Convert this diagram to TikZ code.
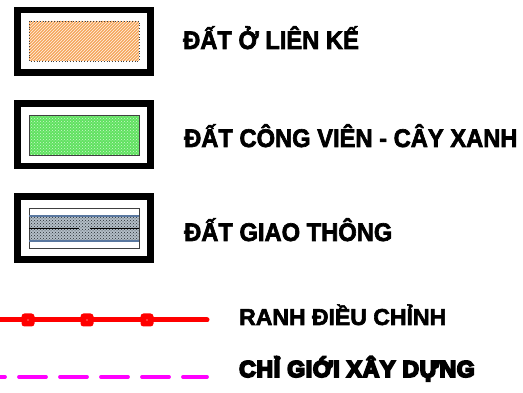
\documentclass[tikz,border=0pt]{standalone}
\usepackage{fontspec}
\newfontfamily\labelfont{Liberation Sans}[UprightFont={* Bold}, FakeBold=2.5, FakeStretch=0.93]
\newfontfamily\lineplainfont{Liberation Sans}[UprightFont={* Bold}, FakeBold=2.5]
\newfontfamily\heavyfont{Liberation Sans}[UprightFont={* Bold}, FakeBold=8, LetterSpace=3]
\usetikzlibrary{patterns}
\definecolor{landorange}{RGB}{246,166,92}
\definecolor{parkgreen}{RGB}{96,226,96}
\definecolor{roadgrey}{RGB}{128,146,162}
\definecolor{roadblue}{RGB}{90,120,160}
\definecolor{boundred}{RGB}{255,0,0}
\definecolor{setbackmag}{RGB}{255,0,255}
\tikzset{
  frame/.style={draw=black, line width=6.5pt},
  swatch/.style={draw=black!75, line width=0.8pt},
  label/.style={anchor=base west, inner sep=0pt, font=\labelfont\fontsize{25.5}{26}\selectfont},
  linelabel/.style={anchor=base west, inner sep=0pt, font=\lineplainfont\fontsize{23}{24}\selectfont},
  marker/.style={fill=boundred, rounded corners=3pt, minimum size=13pt, inner sep=0pt},
}
\begin{document}
\begin{tikzpicture}[x=1pt,y=-1pt]
\useasboundingbox (0,0) rectangle (523,393);

% residential row-house plot
\draw[frame] (17.5,10) rectangle (150.5,72.5);
\fill[landorange] (29,21) rectangle (139,61);
\fill[pattern=north east lines, pattern color=white!85!landorange] (29,21) rectangle (139,61);
\draw[swatch, dotted] (29,21) rectangle (139,61);
\node[label] (t1) at (183,49) {ĐẤT Ở LIÊN KẾ};

% park and green space
\draw[frame] (17.5,103.5) rectangle (150.5,166);
\fill[parkgreen] (29,115) rectangle (139,155);
\fill[pattern=crosshatch dots, pattern color=white!70!parkgreen] (29,115) rectangle (139,155);
\draw[swatch] (29,115) rectangle (139,155);
\node[label] (t2) at (184,147) {ĐẤT CÔNG VIÊN - CÂY XANH};

% transport land
\draw[frame] (17.5,196.5) rectangle (150.5,259.5);
\fill[roadgrey!60] (29,216) rectangle (139,241);
\fill[pattern=crosshatch dots, pattern color=roadgrey!30!black] (29,216) rectangle (139,241);
\draw[swatch] (29,208) rectangle (139,248);
\draw[roadblue, line width=1.2pt] (29,216) -- (139,216) (29,241) -- (139,241);
\draw[black, line width=0.8pt] (29,228.5) -- (79,228.5) (90,228.5) -- (139,228.5);
\node[label] (t3) at (184,241) {ĐẤT GIAO THÔNG};

% adjustment boundary
\coordinate (r0) at (0,320);
\coordinate (r1) at (207,320);
\draw[boundred, line width=5pt, line cap=round] (r0) -- (r1);
\foreach \x/\n in {28/a,87/b,147/c}{
  \node[marker] (m\n) at (\x,320) {};
  \fill[white] (\x,320) circle (0.6pt);
}
\node[linelabel] (t4) at (239,325) {RANH ĐIỀU CHỈNH};

% building line
\coordinate (s0) at (0,377);
\coordinate (s1) at (207,377);
\draw[setbackmag, line width=3.8pt, line cap=round, dash pattern=on 27pt off 14pt, dash phase=-19pt] (s0) -- (s1);
\node[linelabel, font=\heavyfont\fontsize{23}{24}\selectfont] (t5) at (239,377) {CHỈ GIỚI XÂY DỰNG};
\end{tikzpicture}
\end{document}
